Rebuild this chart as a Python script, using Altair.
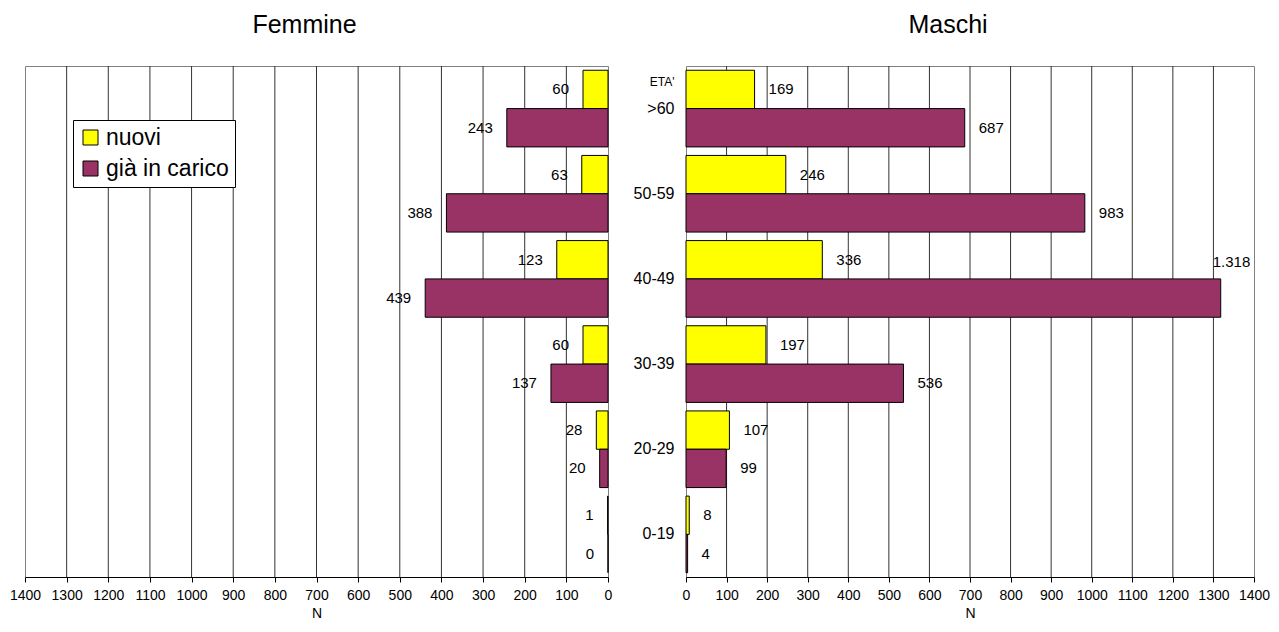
import altair as alt
import pandas as pd

ages = [">60", "50-59", "40-49", "30-39", "20-29", "0-19"]
series = ["nuovi", "già in carico"]
f_nuovi = [60, 63, 123, 60, 28, 1]
f_carico = [243, 388, 439, 137, 20, 0]
m_nuovi = [169, 246, 336, 197, 107, 8]
m_carico = [687, 983, 1318, 536, 99, 4]
ticks = list(range(0, 1500, 100))
colors = ["#FFFF00", "#993366"]
FONT = "Liberation Sans"


def fmt(v):
    return f"{v:,}".replace(",", ".")


def make_df(nuovi, carico):
    rows = []
    for a, n, c in zip(ages, nuovi, carico):
        rows.append({"age": a, "serie": series[0], "n": n, "lab": fmt(n)})
        rows.append({"age": a, "serie": series[1], "n": c, "lab": fmt(c)})
    return pd.DataFrame(rows)


df_f = make_df(f_nuovi, f_carico)
df_m = make_df(m_nuovi, m_carico)

yscale = alt.Scale(domain=ages, paddingInner=0.1, paddingOuter=0.05)
off_scale = alt.Scale(domain=series, paddingInner=0, paddingOuter=0)
grid_vals = ticks[1:-1]
H = 511


def xaxis():
    return alt.Axis(values=ticks, title="N", grid=False, tickSize=5, format="d",
                    labelFontSize=14, titleFontSize=14, titleFontWeight="normal",
                    domainColor="black", tickColor="black", labelColor="black",
                    titleColor="black", labelPadding=6, titlePadding=4,
                    labelFont=FONT, titleFont=FONT, labelFlush=False)


def grid_layer(reverse):
    gdf = pd.DataFrame({"g": grid_vals})
    return alt.Chart(gdf).mark_rule(color="#333333", strokeWidth=1).encode(
        x=alt.X("g:Q", scale=alt.Scale(domain=[0, 1400], reverse=reverse, nice=False))
    )


# Female (left)
xs_f = alt.Scale(domain=[0, 1400], reverse=True, nice=False)
base_f = alt.Chart(df_f)
bars_f = base_f.mark_bar(stroke="black", strokeWidth=1).encode(
    x=alt.X("n:Q", scale=xs_f, axis=xaxis()),
    y=alt.Y("age:N", scale=yscale, axis=None),
    yOffset=alt.YOffset("serie:N", scale=off_scale),
    color=alt.Color("serie:N", scale=alt.Scale(domain=series, range=colors),
                    legend=alt.Legend(title=None, orient="none", legendX=48, legendY=54,
                                      symbolType="square", symbolSize=225,
                                      symbolStrokeColor="black", symbolStrokeWidth=1,
                                      symbolOpacity=1,
                                      labelFontSize=23, labelFont=FONT, labelColor="black",
                                      strokeColor="black", fillColor="white",
                                      padding=6, rowPadding=7, labelOffset=4)),
)
text_f = base_f.mark_text(align="right", baseline="middle", dx=-14, fontSize=15, font=FONT,
                          color="black").encode(
    x=alt.X("n:Q", scale=xs_f),
    y=alt.Y("age:N", scale=yscale),
    yOffset=alt.YOffset("serie:N", scale=off_scale),
    text="lab:N",
)
left = alt.layer(grid_layer(True), bars_f, text_f).properties(
    width=583, height=H,
    title=alt.TitleParams("Femmine", fontSize=25, font=FONT, fontWeight="normal", offset=28,
                          dx=-12, color="black"),
)

# Male (right)
xs_m = alt.Scale(domain=[0, 1400], nice=False)
base_m = alt.Chart(df_m)
bars_m = base_m.mark_bar(stroke="black", strokeWidth=1).encode(
    x=alt.X("n:Q", scale=xs_m, axis=xaxis()),
    y=alt.Y("age:N", scale=yscale,
            axis=alt.Axis(title="ETA'", titleAngle=0, titleAlign="right", titleBaseline="middle",
                          titleX=-12, titleY=15, titleFontSize=12, titleFontWeight="normal",
                          titleFont=FONT, titleColor="black",
                          labelFontSize=16, labelFont=FONT, labelColor="black",
                          ticks=False, domain=False, labelPadding=12)),
    yOffset=alt.YOffset("serie:N", scale=off_scale),
    color=alt.Color("serie:N", scale=alt.Scale(domain=series, range=colors), legend=None),
)
text_m = base_m.transform_filter("datum.n < 1300").mark_text(
    align="left", baseline="middle", dx=14, fontSize=15, font=FONT, color="black").encode(
    x=alt.X("n:Q", scale=xs_m),
    y=alt.Y("age:N", scale=yscale),
    yOffset=alt.YOffset("serie:N", scale=off_scale),
    text="lab:N",
)
text_big = base_m.transform_filter("datum.n >= 1300").mark_text(
    align="left", baseline="middle", dx=-8, dy=-36, fontSize=15, font=FONT, color="black").encode(
    x=alt.X("n:Q", scale=xs_m),
    y=alt.Y("age:N", scale=yscale),
    yOffset=alt.YOffset("serie:N", scale=off_scale),
    text="lab:N",
)
right = alt.layer(grid_layer(False), bars_m, text_m, text_big).properties(
    width=568, height=H,
    title=alt.TitleParams("Maschi", fontSize=25, font=FONT, fontWeight="normal", offset=28,
                          dx=-22, color="black"),
)

chart = alt.hconcat(left, right, spacing=19).resolve_scale(color="independent").configure_view(
    stroke="#808080", strokeWidth=1
).properties(padding={"left": 0, "top": 4, "right": 0, "bottom": 0})

chart.save("out.html", embed_options={"renderer": "svg", "actions": False})
